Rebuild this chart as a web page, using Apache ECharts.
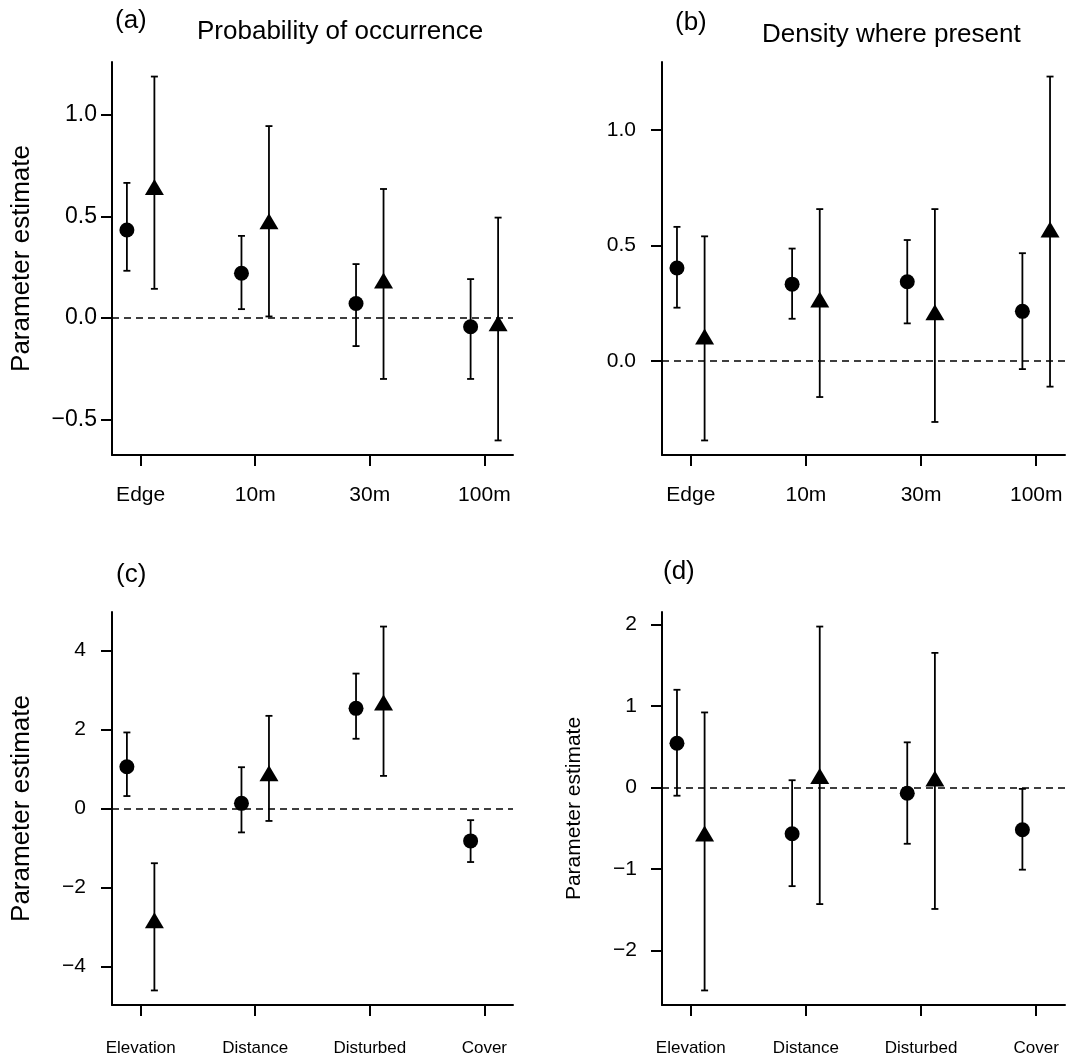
<!DOCTYPE html>
<html>
<head>
<meta charset="utf-8">
<script src="https://cdn.jsdelivr.net/npm/echarts@6/dist/echarts.min.js"></script>
<style>
  html, body { margin: 0; padding: 0; background: #fff; }
  #chart { width: 1089px; height: 1057px; }
</style>
</head>
<body>
<div id="chart"></div>
<script>
// categories
const catsTop = ['Edge', '10m', '30m', '100m'];
const catsBottom = ['Elevation', 'Distance', 'Disturbed', 'Cover'];

// (a) probability of occurrence
const aCircle = [0.434, 0.221, 0.072, -0.043];
const aCircleLo = [0.233, 0.044, -0.138, -0.30];
const aCircleHi = [0.666, 0.405, 0.266, 0.192];
const aTri = [0.632, 0.464, 0.172, -0.039];
const aTriLo = [0.144, 0.008, -0.30, -0.603];
const aTriHi = [1.19, 0.946, 0.636, 0.495];

// (b) density where present
const bCircle = [0.403, 0.333, 0.343, 0.215];
const bCircleLo = [0.231, 0.183, 0.163, -0.035];
const bCircleHi = [0.581, 0.487, 0.524, 0.467];
const bTri = [0.094, 0.255, 0.200, 0.558];
const bTriLo = [-0.344, -0.156, -0.264, -0.111];
const bTriHi = [0.540, 0.658, 0.658, 1.232];

// (c)
const cCircle = [1.05, 0.126, 2.53, -0.825];
const cCircleLo = [0.31, -0.61, 1.76, -1.36];
const cCircleHi = [1.92, 1.04, 3.41, -0.30];
const cTri = [-2.90, 0.82, 2.61, null];
const cTriLo = [-4.61, -0.32, 0.82, null];
const cTriHi = [-1.39, 2.34, 4.60, null];

// (d)
const dCircle = [0.543, -0.567, -0.069, -0.518];
const dCircleLo = [-0.10, -1.21, -0.69, -1.008];
const dCircleHi = [1.20, 0.09, 0.555, -0.016];
const dTri = [-0.596, 0.11, 0.078, null];
const dTriLo = [-2.49, -1.43, -1.49, null];
const dTriHi = [0.922, 1.976, 1.653, null];

// y tick labels
const aTicks = [-0.5, 0, 0.5, 1.0];
const bTicks = [0, 0.5, 1.0];
const cTicks = [-4, -2, 0, 2, 4];
const dTicks = [-2, -1, 0, 1, 2];

const FONT = "'Liberation Sans', Arial, Helvetica, sans-serif";
const DODGE = 0.12;

const panels = [
  { cats: catsTop, c: aCircle, cLo: aCircleLo, cHi: aCircleHi, t: aTri, tLo: aTriLo, tHi: aTriHi,
    ticks: aTicks, dec: 1, grid: { left: 112, top: 62, width: 401, height: 393 },
    yName: 'Parameter estimate', yNameSize: 26, xFont: 21, xMargin: 30, yFont: 23, yMargin: 15 },
  { cats: catsTop, c: bCircle, cLo: bCircleLo, cHi: bCircleHi, t: bTri, tLo: bTriLo, tHi: bTriHi,
    ticks: bTicks, dec: 1, grid: { left: 662, top: 62, width: 403, height: 393 },
    yName: '', yNameSize: 26, xFont: 21, xMargin: 30, yFont: 21, yMargin: 26 },
  { cats: catsBottom, c: cCircle, cLo: cCircleLo, cHi: cCircleHi, t: cTri, tLo: cTriLo, tHi: cTriHi,
    ticks: cTicks, dec: 0, grid: { left: 112, top: 612, width: 401, height: 393 },
    yName: 'Parameter estimate', yNameSize: 26, xFont: 17, xMargin: 35, yFont: 21, yMargin: 26 },
  { cats: catsBottom, c: dCircle, cLo: dCircleLo, cHi: dCircleHi, t: dTri, tLo: dTriLo, tHi: dTriHi,
    ticks: dTicks, dec: 0, grid: { left: 662, top: 612, width: 403, height: 393 },
    yName: 'Parameter estimate', yNameSize: 21, xFont: 17, xMargin: 35, yFont: 21, yMargin: 25 }
];

// R-style range: data range extended by 4% each side
function yRange(p) {
  const all = [].concat(p.cLo, p.cHi, p.tLo, p.tHi).filter(v => v != null);
  const lo = Math.min(...all), hi = Math.max(...all);
  const ext = (hi - lo) * 0.04;
  return [lo - ext, hi + ext];
}

function fmtNum(v, dec) {
  return v.toFixed(dec).replace('-', '\u2212');
}

function errorBars(params, api) {
  const x = api.value(0);
  const top = api.coord([x, api.value(2)]);
  const bot = api.coord([x, api.value(1)]);
  const hw = 3.5;
  const st = { stroke: '#000', lineWidth: 1.8 };
  return {
    type: 'group',
    children: [
      { type: 'line', shape: { x1: top[0], y1: top[1], x2: bot[0], y2: bot[1] }, style: st },
      { type: 'line', shape: { x1: top[0] - hw, y1: top[1], x2: top[0] + hw, y2: top[1] }, style: st },
      { type: 'line', shape: { x1: bot[0] - hw, y1: bot[1], x2: bot[0] + hw, y2: bot[1] }, style: st }
    ]
  };
}

const grid = [], xAxis = [], yAxis = [], series = [];

panels.forEach((p, i) => {
  grid.push(p.grid);
  const cats = p.cats;
  xAxis.push({
    type: 'value', gridIndex: i, min: 0.75, max: 4.25,
    axisLine: { onZero: false, lineStyle: { color: '#000', width: 2 } },
    axisTick: { customValues: [1, 2, 3, 4], length: 11, lineStyle: { color: '#000', width: 2 } },
    axisLabel: {
      customValues: [1, 2, 3, 4], formatter: v => cats[Math.round(v) - 1],
      color: '#000', fontFamily: FONT, fontSize: p.xFont, margin: p.xMargin
    },
    splitLine: { show: false }
  });
  const [ymin, ymax] = yRange(p);
  yAxis.push({
    type: 'value', gridIndex: i, min: ymin, max: ymax,
    name: p.yName, nameLocation: 'middle', nameRotate: 90, nameGap: 77,
    nameTextStyle: { color: '#000', fontFamily: FONT, fontSize: p.yNameSize },
    axisLine: { show: true, onZero: false, lineStyle: { color: '#000', width: 2 } },
    axisTick: { show: true, customValues: p.ticks, length: 11, lineStyle: { color: '#000', width: 2 } },
    axisLabel: {
      customValues: p.ticks, formatter: v => fmtNum(v, p.dec),
      color: '#000', fontFamily: FONT, fontSize: p.yFont, margin: p.yMargin
    },
    splitLine: { show: false }
  });

  const circBars = [], triBars = [], circPts = [], triPts = [];
  for (let k = 0; k < 4; k++) {
    circBars.push([k + 1 - DODGE, p.cLo[k], p.cHi[k]]);
    circPts.push([k + 1 - DODGE, p.c[k]]);
    if (p.t[k] != null) {
      triBars.push([k + 1 + DODGE, p.tLo[k], p.tHi[k]]);
      triPts.push([k + 1 + DODGE, p.t[k]]);
    }
  }

  series.push({
    type: 'line', xAxisIndex: i, yAxisIndex: i, data: [], silent: true,
    markLine: {
      silent: true, symbol: 'none', label: { show: false },
      lineStyle: { color: '#000', type: [7, 5], width: 1.6, opacity: 1 },
      emphasis: { disabled: true },
      data: [{ yAxis: 0 }]
    }
  });
  series.push({ type: 'custom', xAxisIndex: i, yAxisIndex: i, renderItem: errorBars,
    data: circBars.concat(triBars), z: 2 });
  series.push({ type: 'scatter', xAxisIndex: i, yAxisIndex: i, data: circPts,
    symbol: 'circle', symbolSize: 15, itemStyle: { color: '#000', opacity: 1 }, z: 3 });
  series.push({ type: 'scatter', xAxisIndex: i, yAxisIndex: i, data: triPts,
    symbol: 'triangle', symbolSize: [19, 16], symbolOffset: [0, -2.7],
    itemStyle: { color: '#000', opacity: 1 }, z: 3 });
});

function label(text, x, y) {
  return {
    type: 'text', x: x, y: y,
    style: { text: text, fill: '#000', font: '26px ' + FONT, textAlign: 'left', textVerticalAlign: 'middle' }
  };
}

const chart = echarts.init(document.getElementById('chart'));
chart.setOption({
  animation: false,
  backgroundColor: '#fff',
  grid: grid,
  xAxis: xAxis,
  yAxis: yAxis,
  series: series,
  graphic: [
    label('(a)', 115, 21),
    label('Probability of occurrence', 197, 32),
    label('(b)', 675, 23),
    label('Density where present', 762, 35),
    label('(c)', 116, 575),
    label('(d)', 663, 572)
  ]
});
</script>
</body>
</html>
